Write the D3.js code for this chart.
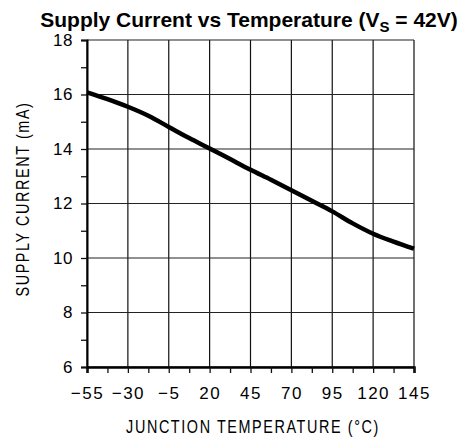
<!DOCTYPE html>
<html>
<head>
<meta charset="utf-8">
<script src="https://cdn.jsdelivr.net/npm/d3@7"></script>
<style>
    body { margin: 0; background: #fff; }
    .tick text { font-family: "Liberation Sans", Arial, sans-serif; }
</style>
</head>
<body>
<div id="chart"></div>
<script>
// data
const temps = [-55, -42.5, -30, -17.5, -5, 7.5, 20, 32.5, 45, 57.5, 70, 82.5, 95, 107.5, 120, 132.5, 145];
const current = [16.08, 15.83, 15.55, 15.22, 14.81, 14.4, 14.02, 13.63, 13.24, 12.87, 12.49, 12.1, 11.71, 11.27, 10.89, 10.6, 10.34];
const xTicks = [-55, -30, -5, 20, 45, 70, 95, 120, 145];
const yTicks = [6, 8, 10, 12, 14, 16, 18];

// margin convention
const svgWidth = 471,
    svgHeight = 445,
    margin = { top: 40, right: 57, bottom: 78, left: 87 },
    width = svgWidth - margin.left - margin.right,
    height = svgHeight - margin.top - margin.bottom;

let svgRoot = d3.select("#chart").append("svg")
    .attr("width", svgWidth)
    .attr("height", svgHeight);
let svg = svgRoot.append("g")
    .attr("transform", `translate(${margin.left},${margin.top})`);

let xScale = d3.scaleLinear().domain([-55, 145]).range([0, width]);
let yScale = d3.scaleLinear().domain([6, 18]).range([height, 0]);

// grid
svg.append("g").selectAll("line")
    .data(xTicks)
    .join("line")
    .attr("x1", (d) => xScale(d)).attr("x2", (d) => xScale(d))
    .attr("y1", 0).attr("y2", height)
    .attr("stroke", "#111").attr("stroke-width", 1.2);
svg.append("g").selectAll("line")
    .data(yTicks)
    .join("line")
    .attr("x1", 0).attr("x2", width)
    .attr("y1", (d) => yScale(d)).attr("y2", (d) => yScale(d))
    .attr("stroke", "#222").attr("stroke-width", 1.2);

// minor ticks
let xMinor = d3.range(-42.5, 145, 25);
let yMinor = d3.range(7, 18, 2);

// axes
let xAxis = svg.append("g")
    .attr("transform", `translate(0,${height})`)
    .call(d3.axisBottom(xScale).tickValues(xTicks).tickSize(6).tickPadding(14).tickFormat((d) => d < 0 ? "\u2212" + (-d) : d));
let yAxis = svg.append("g")
    .call(d3.axisLeft(yScale).tickValues(yTicks).tickSize(6).tickPadding(8));
svg.append("g")
    .attr("transform", `translate(0,${height})`)
    .call(d3.axisBottom(xScale).tickValues(xMinor).tickSize(6).tickFormat(""))
    .select(".domain").remove();
svg.append("g")
    .call(d3.axisLeft(yScale).tickValues(yMinor).tickSize(6).tickFormat(""))
    .select(".domain").remove();

svg.selectAll(".tick line").attr("stroke", "#111").attr("stroke-width", 1.3);
xAxis.select(".domain").attr("stroke", "#000").attr("stroke-width", 2.5);
yAxis.select(".domain").attr("stroke", "#000").attr("stroke-width", 2);
xAxis.selectAll("text").attr("font-size", 17).attr("fill", "#000").attr("letter-spacing", 1.5);
yAxis.selectAll("text").attr("font-size", 17).attr("fill", "#000").attr("letter-spacing", 0.5);

// curve
svg.append("path")
    .datum(temps.map((t, i) => [t, current[i]]))
    .attr("fill", "none")
    .attr("stroke", "#000")
    .attr("stroke-width", 4.5)
    .attr("d", d3.line().x((d) => xScale(d[0])).y((d) => yScale(d[1])).curve(d3.curveMonotoneX));

// title
let title = svgRoot.append("text")
    .attr("x", 249)
    .attr("y", 27)
    .attr("text-anchor", "middle")
    .attr("font-family", "Liberation Sans, Arial, sans-serif")
    .attr("font-weight", "bold")
    .attr("font-size", 21);
title.append("tspan").text("Supply Current vs Temperature (V");
title.append("tspan").attr("font-size", 15).attr("dy", 5).text("S");
title.append("tspan").attr("dy", -5).text(" = 42V)");

// axis labels (narrowed to match the plotter font)
svgRoot.append("text")
    .attr("transform", "translate(253,433) scale(0.8,1)")
    .attr("text-anchor", "middle")
    .attr("font-family", "Liberation Sans, Arial, sans-serif")
    .attr("font-size", 18)
    .attr("letter-spacing", 2)
    .text("JUNCTION TEMPERATURE (\u00B0C)");
svgRoot.append("text")
    .attr("transform", "translate(28.5,199) rotate(-90) scale(0.8,1)")
    .attr("text-anchor", "middle")
    .attr("font-family", "Liberation Sans, Arial, sans-serif")
    .attr("font-size", 18)
    .attr("letter-spacing", 2)
    .text("SUPPLY CURRENT (mA)");
</script>
</body>
</html>
